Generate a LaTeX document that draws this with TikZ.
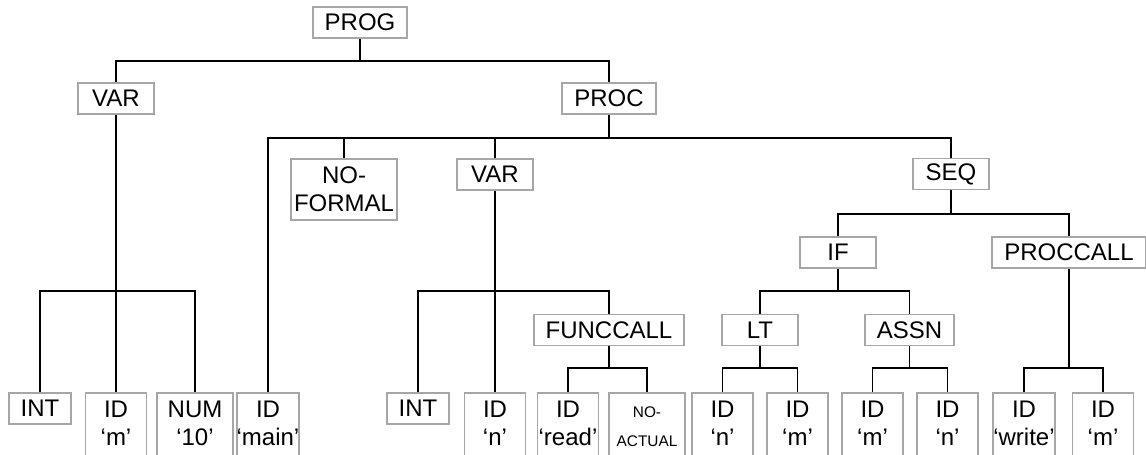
\documentclass[tikz,border=0pt]{standalone}
\usepackage{fontspec}
\setmainfont{Liberation Sans}
\usetikzlibrary{calc}
\tikzset{
  abox/.style  ={draw=black!35, line width=.9pt, fill=white, align=center,
                 inner xsep=6pt, inner ysep=0pt, minimum width=38pt, minimum height=15.5pt},
  atwo/.style  ={abox, inner xsep=1.5pt, inner ysep=4pt},
  aleaf/.style ={draw=black!35, line width=.9pt, fill=white, align=center, anchor=north,
                 inner xsep=0pt, inner ysep=4pt, minimum width=30.5pt,
                 execute at end node={\rule[-12pt]{0pt}{1pt}}},
  aline/.style ={line width=.95pt, draw=black},
}
\begin{document}
\begin{tikzpicture}[x=0.5pt, y=-0.5pt, font=\fontsize{12}{14}\selectfont]
  \useasboundingbox (0,0) rectangle (1146,455);
  \clip (0,0) rectangle (1146,455);

  % ---- upper levels ----
  \node[abox] (prog) at (360,22.5) {PROG};
  \node[abox] (varm) at (116,98.5) {VAR};
  \node[abox] (proc) at (609,98.5) {PROC};

  \node[atwo, minimum width=53pt] (noformal) at (344,189.5) {NO-\\FORMAL};
  \node[abox] (varn) at (495,174.5) {VAR};
  \node[abox] (seq)  at (951,174) {SEQ};

  \node[abox] (ifst)     at (838,252.5) {IF};
  \node[abox] (proccall) at (1069,252.5) {PROCCALL};

  \node[abox] (funccall) at (609,330) {FUNCCALL};
  \node[abox] (lt)       at (760,330) {LT};
  \node[abox] (assn)     at (909.5,330) {ASSN};

  % ---- leaves ----
  \node[abox, anchor=north, minimum width=31pt] (int) at (40,392) {INT};
  \node[aleaf] (idm)    at (116,392) {ID\\‘m’};
  \node[aleaf, minimum width=38pt] (num) at (195,392) {NUM\\‘10’};
  \node[aleaf] (idmain) at (268,392) {ID\\‘main’};
  \node[abox, anchor=north, minimum width=30pt] (intn) at (418,392) {INT};
  \node[aleaf] (idn)    at (495,392) {ID\\‘n’};
  \node[aleaf] (idread) at (568,392) {ID\\‘read’};
  \node[aleaf, minimum width=38pt, inner ysep=7pt, font=\fontsize{7.7}{14.5}\selectfont]
    (noactual) at (647,392) {NO-\\ACTUAL};
  \node[aleaf] (idnlt)  at (722.5,392) {ID\\‘n’};
  \node[aleaf] (idmlt)  at (797.5,392) {ID\\‘m’};
  \node[aleaf] (idmas)  at (872.5,392) {ID\\‘m’};
  \node[aleaf] (idnas)  at (947.5,392) {ID\\‘n’};
  \node[aleaf] (idwrite) at (1024,392) {ID\\‘write’};
  \node[aleaf] (idmpc)  at (1103,392) {ID\\‘m’};

  % ---- connectors ----
  \coordinate (bprog) at ($(prog.south)+(0,22)$);
  \draw[aline] (prog.south) -- (bprog);
  \draw[aline] (bprog) -| (varm.north);
  \draw[aline] (bprog) -| (proc.north);

  \coordinate (bvarm) at ($(varm.south)+(0,176)$);
  \draw[aline] (varm.south) -- (bvarm);
  \draw[aline] (bvarm) -| (int.north);
  \draw[aline] (bvarm) -| (idm.north);
  \draw[aline] (bvarm) -| (num.north);

  \coordinate (bproc) at ($(proc.south)+(0,23)$);
  \draw[aline] (proc.south) -- (bproc);
  \draw[aline] (bproc) -| (idmain.north);
  \draw[aline] (bproc) -| (noformal.north);
  \draw[aline] (bproc) -| (varn.north);
  \draw[aline] (bproc) -| (seq.north);

  \coordinate (bvarn) at ($(varn.south)+(0,100)$);
  \draw[aline] (varn.south) -- (bvarn);
  \draw[aline] (bvarn) -| (intn.north);
  \draw[aline] (bvarn) -| (idn.north);
  \draw[aline] (bvarn) -| (funccall.north);

  \coordinate (bfunc) at ($(funccall.south)+(0,21.5)$);
  \draw[aline] (funccall.south) -- (bfunc);
  \draw[aline] (bfunc) -| (idread.north);
  \draw[aline] (bfunc) -| (noactual.north);

  \coordinate (bseq) at ($(seq.south)+(0,23.5)$);
  \draw[aline] (seq.south) -- (bseq);
  \draw[aline] (bseq) -| (ifst.north);
  \draw[aline] (bseq) -| (proccall.north);

  \coordinate (bif) at ($(ifst.south)+(0,22)$);
  \draw[aline] (ifst.south) -- (bif);
  \draw[aline] (bif) -| (lt.north);
  \draw[aline] (bif) -| (assn.north);

  \coordinate (blt) at ($(lt.south)+(0,21.5)$);
  \draw[aline] (lt.south) -- (blt);
  \draw[aline] (blt) -| (idnlt.north);
  \draw[aline] (blt) -| (idmlt.north);

  \coordinate (bassn) at ($(assn.south)+(0,21.5)$);
  \draw[aline] (assn.south) -- (bassn);
  \draw[aline] (bassn) -| (idmas.north);
  \draw[aline] (bassn) -| (idnas.north);

  \coordinate (bpcall) at ($(proccall.south)+(0,99)$);
  \draw[aline] (proccall.south) -- (bpcall);
  \draw[aline] (bpcall) -| (idwrite.north);
  \draw[aline] (bpcall) -| (idmpc.north);

\end{tikzpicture}
\end{document}
